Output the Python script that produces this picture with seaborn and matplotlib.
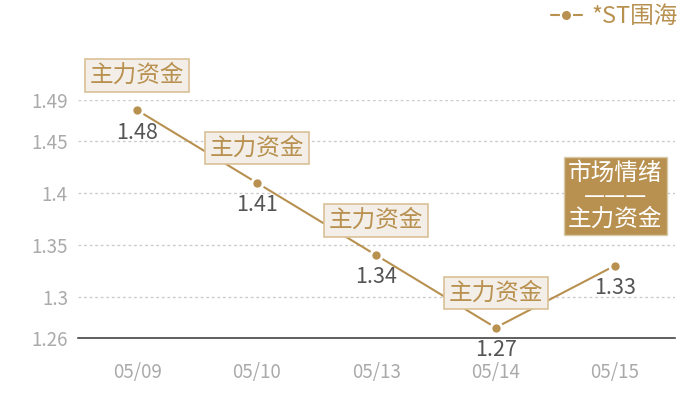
import matplotlib
matplotlib.use('Agg')
import matplotlib.pyplot as plt
from matplotlib.lines import Line2D
import seaborn as sns
import pandas as pd

# ---- data ----
dates = ["05/09", "05/10", "05/13", "05/14", "05/15"]
prices = [1.48, 1.41, 1.34, 1.27, 1.33]
y_ticks = [1.26, 1.3, 1.35, 1.4, 1.45, 1.49]
y_tick_labels = ["1.26", "1.3", "1.35", "1.4", "1.45", "1.49"]
box_texts = ["主力资金", "主力资金", "主力资金", "主力资金", "市场情绪\n———\n主力资金"]
series_name = "*ST围海"

TAN = "#b89150"
GRAY = "#aaaaaa"

sns.set_style("white")
plt.rcParams['font.family'] = ['Noto Sans CJK SC', 'DejaVu Sans']

df = pd.DataFrame({"date": dates, "price": prices})

fig = plt.figure(figsize=(7, 4), dpi=100)
ax = fig.add_axes([0.111, 0.155, 0.853, 0.595])

sns.lineplot(data=df, x="date", y="price", ax=ax, color=TAN, lw=1.5,
             marker="o", markersize=8, markeredgecolor="white",
             markeredgewidth=2, zorder=3)

ax.set_xlim(-0.5, 4.5)
ax.set_ylim(y_ticks[0], y_ticks[-1])
ax.set_yticks(y_ticks)
ax.set_yticklabels(y_tick_labels)
ax.set_xlabel("")
ax.set_ylabel("")
ax.tick_params(axis='y', length=0, pad=7, labelsize=13.5, labelcolor=GRAY)
ax.tick_params(axis='x', length=0, pad=17, labelsize=13.5, labelcolor=GRAY)

for t in y_ticks[1:]:
    ax.axhline(t, color="#cccccc", lw=1, ls=(0, (2, 2)), zorder=1)
for s in ["left", "right", "top"]:
    ax.spines[s].set_visible(False)
ax.spines["bottom"].set_color("#333333")
ax.spines["bottom"].set_linewidth(1.1)

# value labels and boxes
for i, (d, v, txt) in enumerate(zip(dates, prices, box_texts)):
    ax.annotate(f"{v:.2f}", (i, v), xytext=(0, -16), textcoords="offset points",
                ha="center", va="center", fontsize=15.5, color="#555555",
                zorder=4, annotation_clip=False)
    if i < 4:
        ax.annotate(txt, (i, v), xytext=(0, 25), textcoords="offset points",
                    ha="center", va="center", fontsize=17, color=TAN, zorder=5,
                    annotation_clip=False,
                    bbox=dict(boxstyle="square,pad=0.2", fc="#f3efe8",
                              ec="#d9c196", lw=1.2))
    else:
        ax.annotate(txt, (i, v), xytext=(0, 50), textcoords="offset points",
                    ha="center", va="center", fontsize=17, color="white", zorder=5,
                    linespacing=1.0, annotation_clip=False,
                    bbox=dict(boxstyle="square,pad=0.18", fc=TAN,
                              ec="#d9c9a8", lw=1))

handle = Line2D([0], [0], color=TAN, lw=1.5, marker="o", markersize=8,
                markeredgecolor="white", markeredgewidth=1.5)
leg = fig.legend([handle], [series_name], loc="upper right",
                 bbox_to_anchor=(0.998, 1.04), frameon=False, fontsize=17,
                 handlelength=1.3, handletextpad=0.4)
for t in leg.get_texts():
    t.set_color(TAN)

fig.savefig("out.png", dpi=100)
